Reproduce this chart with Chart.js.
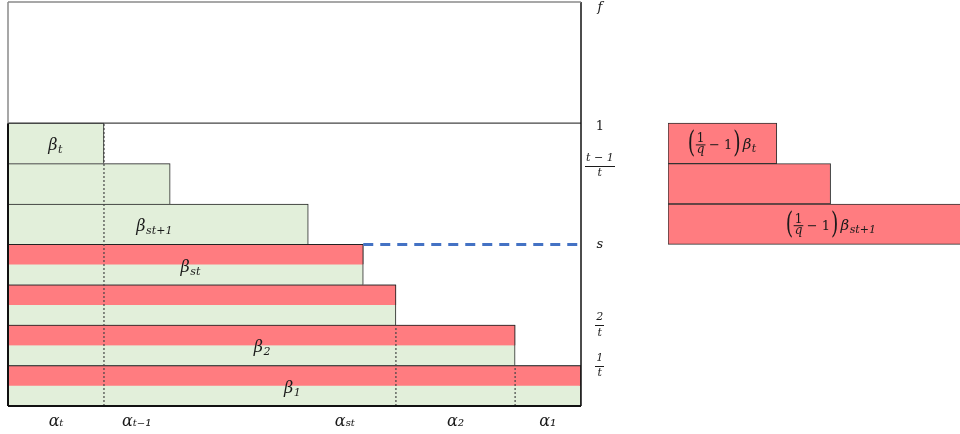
<!DOCTYPE html>
<html><head><meta charset="utf-8">
<script src="https://cdn.jsdelivr.net/npm/chart.js@4.4.1/dist/chart.umd.min.js"></script>
<style>
html,body{margin:0;padding:0;background:#fff;overflow:hidden;}
#wrapMain{position:absolute;left:0;top:0;width:641px;height:434px;}
#wrapSide{position:absolute;left:645px;top:0;width:315px;height:434px;}
</style></head><body>
<div id="wrapMain"><canvas id="main"></canvas></div>
<div id="wrapSide"><canvas id="side"></canvas></div>
<script>
// ---- data ----
const rowNumbers = [10, 9, 8, 7, 6, 5, 4, 3, 2, 1];          // levels, top to bottom
const greenRows = [7, 6, 5, 4, 3, 2, 1];
const greenWidths = [16.75, 28.3, 52.4, 62, 67.7, 88.5, 100];
const redRows = [4, 3, 2, 1];
const redWidths = [62, 67.7, 88.5, 100];
const xTickValues = [8.4, 22.5, 58.8, 78.1, 94.2];
const xTickLabels = ['αₜ', 'αₜ₋₁', 'αₛₜ', 'α₂', 'α₁'];
const rightTickValues = [1, 2, 4, 5.95, 6.92, 9.85];
const rightTickLabels = [['1', 't'], ['2', 't'], 's', ['t − 1', 't'], '1', 'f'];
const betaSubs = ['t', 'st+1', 'st', '2', '1'];
const betaRows = [7, 5, 4, 2, 1];
const betaX = [8.2, 25.5, 31.8, 44.3, 49.6];
const dividerX = [16.75, 67.7, 88.5];
const dividerTop = [7, 2, 1];
const levelOne = 7;
const topLevel = 10;
const sLevel = 4;
const sStart = 62;
const sideRows = [7, 6, 5];
const sideWidths = [19.0, 28.4, 52.4];
const sideSubs = ['t', 'st+1'];
const sideLabelRows = [7, 5];
const sideLabelX = [9.4, 28.4];

// ---- styles ----
const GREEN = '#E2EFDA';
const RED = '#FF7C80';
const TEXT = '#1a1a1a';
const FAM = '"DejaVu Serif", "Liberation Serif", serif';
const FRAC_SIZE = 11;

const rowLabels = rowNumbers.map(r => 'row ' + r);
const halfLabels = rowNumbers.flatMap(r => ['row ' + r + ' upper', 'row ' + r + ' lower']);
const greenData = rowNumbers.map(r => { const i = greenRows.indexOf(r); return i >= 0 ? greenWidths[i] : null; });
const redData = halfLabels.map((l, k) => {
  const r = rowNumbers[Math.floor(k / 2)];
  const i = redRows.indexOf(r);
  return (k % 2 === 0 && i >= 0) ? redWidths[i] : null;
});

function line(points, color, width, dash) {
  return {
    type: 'line', indexAxis: 'x', xAxisID: 'x', yAxisID: 'yr', data: points,
    borderColor: color, borderWidth: width, borderDash: dash || [],
    pointRadius: 0, fill: false, tension: 0, clip: false, order: 10, borderCapStyle: 'butt'
  };
}

const lineSets = [
  line([{x: 0, y: topLevel}, {x: 100, y: topLevel}], '#8a8a8a', 1.5),
  line([{x: 0, y: levelOne}, {x: 0, y: topLevel}], '#8a8a8a', 1.5),
  line([{x: 0, y: 0}, {x: 0, y: levelOne}], '#111', 2),
  line([{x: 0, y: 0}, {x: 100, y: 0}], '#111', 2),
  line([{x: 100, y: 0}, {x: 100, y: topLevel}], '#111', 1.5),
  line([{x: 0, y: levelOne}, {x: 100, y: levelOne}], '#444', 1.2),
  ...dividerX.map((dx, i) => line([{x: dx, y: 0}, {x: dx, y: dividerTop[i]}], '#444', 1.2, [2, 2])),
  line([{x: sStart, y: sLevel}, {x: 100, y: sLevel}], '#4472C4', 3, [10, 7])
];

function drawSubText(ctx, base, sub, cx, cy) {
  ctx.save();
  ctx.fillStyle = TEXT;
  ctx.textBaseline = 'alphabetic';
  ctx.textAlign = 'left';
  const bf = 'italic 16px ' + FAM, sf = 'italic 11px ' + FAM;
  ctx.font = bf; const bw = ctx.measureText(base).width;
  ctx.font = sf; const sw = ctx.measureText(sub).width;
  let x = cx - (bw + sw) / 2;
  const baseline = cy + 7;
  ctx.font = bf; ctx.fillText(base, x, baseline);
  ctx.font = sf; ctx.fillText(sub, x + bw + 0.5, baseline + 3);
  ctx.restore();
}

function drawParen(ctx, ch, x, cy) {
  ctx.save();
  ctx.font = '19px ' + FAM;
  ctx.translate(x, cy);
  ctx.scale(1, 1.55);
  ctx.fillText(ch, 0, 5.5);
  ctx.restore();
}

function drawFormula(ctx, sub, cx, cy) {
  ctx.save();
  ctx.fillStyle = TEXT;
  ctx.textBaseline = 'alphabetic';
  ctx.textAlign = 'left';
  ctx.font = '19px ' + FAM; const wp = ctx.measureText('(').width;
  ctx.font = '12px ' + FAM; const w1 = ctx.measureText('1').width;
  ctx.font = 'italic 12px ' + FAM; const wq = ctx.measureText('q').width;
  const wf = Math.max(w1, wq) + 3;
  ctx.font = '13px ' + FAM; const wm = ctx.measureText('− 1').width;
  ctx.font = 'italic 15px ' + FAM; const wb = ctx.measureText('β').width;
  ctx.font = 'italic 11px ' + FAM; const ws = ctx.measureText(sub).width;
  const gap = 3;
  const total = wp + wf + gap + wm + 1 + wp + 2 + wb + ws;
  let x = cx - total / 2;
  drawParen(ctx, '(', x, cy); x += wp;
  ctx.textAlign = 'center';
  ctx.font = '12px ' + FAM; ctx.fillText('1', x + wf / 2, cy - 1);
  ctx.font = 'italic 12px ' + FAM; ctx.fillText('q', x + wf / 2, cy + 10);
  ctx.fillRect(x + 0.5, cy + 1, wf - 1, 1);
  ctx.textAlign = 'left';
  x += wf + gap;
  ctx.font = '13px ' + FAM; ctx.fillText('− 1', x, cy + 5.5); x += wm + 1;
  drawParen(ctx, ')', x, cy); x += wp + 2;
  ctx.font = 'italic 15px ' + FAM; ctx.fillText('β', x, cy + 6); x += wb;
  ctx.font = 'italic 11px ' + FAM; ctx.fillText(sub, x + 0.5, cy + 9);
  ctx.restore();
}

const betaLabelPlugin = {
  id: 'betaLabels',
  afterDatasetsDraw(chart) {
    const ctx = chart.ctx, xs = chart.scales.x, ys = chart.scales.yr;
    betaRows.forEach((r, i) => {
      drawSubText(ctx, 'β', betaSubs[i], xs.getPixelForValue(betaX[i]), ys.getPixelForValue(r - 0.5));
    });
  }
};

// fraction bars under the two-line right-axis tick labels
const fractionBarPlugin = {
  id: 'fractionBars',
  afterDraw(chart) {
    const s = chart.scales.yr, ctx = chart.ctx;
    const items = typeof s.getLabelItems === 'function' ? s.getLabelItems() : [];
    ctx.save();
    ctx.fillStyle = TEXT;
    ctx.font = 'italic ' + FRAC_SIZE + 'px ' + FAM;
    rightTickLabels.forEach((lab, i) => {
      if (!Array.isArray(lab)) return;
      const w = Math.max(...lab.map(t => ctx.measureText(t).width)) + 2;
      const it = items[i];
      const cx = it ? it.options.translation[0] : s.left + 17;
      const y = s.getPixelForValue(rightTickValues[i]);
      ctx.fillRect(Math.round(cx - w / 2), Math.round(y), Math.round(w), 1);
    });
    ctx.restore();
  }
};

const noPad = s => { s.paddingTop = 0; s.paddingBottom = 0; s.paddingLeft = 0; s.paddingRight = 0; };

new Chart(document.getElementById('main'), {
  type: 'bar',
  data: {
    labels: rowLabels,
    datasets: [
      {
        type: 'bar', label: 'β', xAxisID: 'x', yAxisID: 'y', data: greenData,
        backgroundColor: GREEN, borderColor: '#222',
        borderWidth: {top: 1, right: 1, bottom: 0, left: 1}, borderSkipped: false,
        barPercentage: 1, categoryPercentage: 1, grouped: false, order: 30
      },
      {
        type: 'bar', label: 'red', xAxisID: 'x', yAxisID: 'y2', data: redData,
        backgroundColor: RED, borderColor: '#222',
        borderWidth: {top: 1, right: 1, bottom: 0, left: 0}, borderSkipped: false,
        barPercentage: 1, categoryPercentage: 1, grouped: false, order: 20
      },
      ...lineSets
    ]
  },
  options: {
    indexAxis: 'y',
    responsive: true, maintainAspectRatio: false, animation: false,
    layout: {padding: {left: 8, top: 2, right: 0, bottom: 0}},
    plugins: {legend: {display: false}, tooltip: {enabled: false}},
    scales: {
      x: {
        type: 'linear', position: 'bottom', min: 0, max: 100, offset: false,
        grid: {display: false, drawTicks: false}, border: {display: false},
        afterBuildTicks: s => { s.ticks = xTickValues.map(v => ({value: v})); },
        afterFit: s => { s.height = 28; noPad(s); },
        ticks: {
          autoSkip: false, maxRotation: 0, padding: 6, color: TEXT,
          font: {family: FAM, style: 'italic', size: 16},
          callback: (v, i) => xTickLabels[i]
        }
      },
      y: {type: 'category', axis: 'y', labels: rowLabels, display: false, offset: true},
      y2: {type: 'category', axis: 'y', labels: halfLabels, display: false, offset: true},
      yr: {
        type: 'linear', axis: 'y', position: 'right', min: 0, max: 10, offset: false,
        grid: {display: false, drawTicks: false, offset: false}, border: {display: false},
        afterBuildTicks: s => { s.ticks = rightTickValues.map(v => ({value: v})); },
        afterFit: s => { s.width = 60; noPad(s); },
        ticks: {
          autoSkip: false, padding: 5, crossAlign: 'center', color: TEXT,
          font: c => {
            const l = rightTickLabels[c.index];
            if (Array.isArray(l)) return {family: FAM, style: 'italic', size: FRAC_SIZE, lineHeight: 1.4};
            return {family: FAM, style: l === '1' ? 'normal' : 'italic', size: 13};
          },
          callback: (v, i) => rightTickLabels[i]
        }
      }
    }
  },
  plugins: [betaLabelPlugin, fractionBarPlugin]
});

const sideData = rowNumbers.map(r => { const i = sideRows.indexOf(r); return i >= 0 ? sideWidths[i] : null; });
const formulaPlugin = {
  id: 'formulaLabels',
  afterDatasetsDraw(chart) {
    const ctx = chart.ctx, xs = chart.scales.x, ys = chart.scales.y;
    sideLabelRows.forEach((r, i) => {
      drawFormula(ctx, sideSubs[i], xs.getPixelForValue(sideLabelX[i]), ys.getPixelForValue(rowNumbers.indexOf(r)));
    });
  }
};

new Chart(document.getElementById('side'), {
  type: 'bar',
  data: {
    labels: rowLabels,
    datasets: [{
      label: 'extra', data: sideData, backgroundColor: RED, borderColor: '#333',
      borderWidth: 1, borderSkipped: false, barPercentage: 1, categoryPercentage: 1
    }]
  },
  options: {
    indexAxis: 'y',
    responsive: true, maintainAspectRatio: false, animation: false,
    layout: {padding: {left: 23, top: 2, right: 0, bottom: 28}},
    plugins: {legend: {display: false}, tooltip: {enabled: false}},
    scales: {
      x: {type: 'linear', min: 0, max: 51, display: false, offset: false},
      y: {type: 'category', labels: rowLabels, display: false, offset: true}
    }
  },
  plugins: [formulaPlugin]
});
</script>
</body></html>
